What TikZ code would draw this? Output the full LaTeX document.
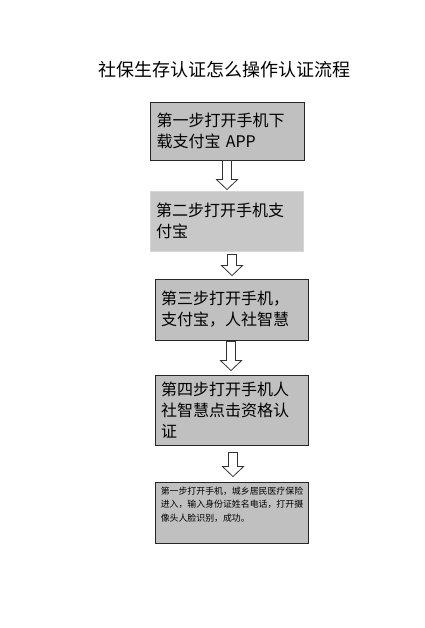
\documentclass[tikz,border=0pt]{standalone}
\usepackage{fontspec}
\setmainfont{Noto Sans CJK SC}
\usetikzlibrary{calc}
\definecolor{boxgray}{HTML}{C0C0C0}
\definecolor{boxgraylight}{HTML}{C8C8C8}
\definecolor{boxedgelight}{HTML}{D6D6D6}
\tikzset{
  stepbox/.style={draw=black!85, line width=0.9pt, fill=boxgray, inner sep=0pt,
    minimum width=153pt, text width=141pt, align=left,
    font=\fontsize{16}{21}\selectfont},
  lightbox/.style={stepbox, draw=boxedgelight, fill=boxgraylight},
  smalltext/.style={inner sep=0pt, align=left, font=\fontsize{8.9}{13.5}\selectfont},
  hollowarrow/.style={draw=black!80, line width=0.8pt, fill=white, line join=miter},
}
\newcommand\flowarrow[5]{% from, to, xcoord, start gap, end gap
  \draw[hollowarrow]
    ($(#1.south -| #3)+(-4.5,#4)$) -- ($(#2.north -| #3)+(-4.5,-10-#5)$)
    -- ($(#2.north -| #3)+(-10.5,-10-#5)$) -- ($(#2.north -| #3)+(0,-#5)$)
    -- ($(#2.north -| #3)+(10.5,-10-#5)$) -- ($(#2.north -| #3)+(4.5,-10-#5)$)
    -- ($(#1.south -| #3)+(4.5,#4)$) -- cycle;}
\begin{document}
\begin{tikzpicture}[x=1pt,y=-1pt]
\useasboundingbox[fill=white] (0,0) rectangle (424,628);
\node[inner sep=0pt, font=\fontsize{18}{20}\selectfont] (title) at (224,70) {社保生存认证怎么操作认证流程};
\node[stepbox, minimum width=154pt, minimum height=58pt] (b1) at (227,131)
  {第一步打开手机下\\载支付宝 APP};
\node[lightbox, minimum height=60pt] (b2) at (226.5,221)
  {第二步打开手机支\\付宝};
\node[stepbox, minimum height=61pt] (b3) at (231.5,309.5)
  {第三步打开手机，\\支付宝，人社智慧};
\node[stepbox, minimum height=70pt] (b4) at (231.5,410)
  {第四步打开手机人\\社智慧点击资格认\\证};
\node[stepbox, minimum height=61pt] (b5) at (231.5,512.5) {};
\node[smalltext, anchor=north west] (t5) at ($(b5.north west)+(6,5)$)
  {第一步打开手机，城乡居民医疗保险\\进入，输入身份证姓名电话，打开摄\\像头人脸识别，成功。};
\coordinate (x1) at (227,0);
\coordinate (x2) at (232,0);
\coordinate (x3) at (231,0);
\coordinate (x4) at (233,0);
\flowarrow{b1}{b2}{x1}{0}{1}
\flowarrow{b2}{b3}{x2}{3}{3}
\flowarrow{b3}{b4}{x3}{1}{4}
\flowarrow{b4}{b5}{x4}{7}{5}
\end{tikzpicture}
\end{document}
